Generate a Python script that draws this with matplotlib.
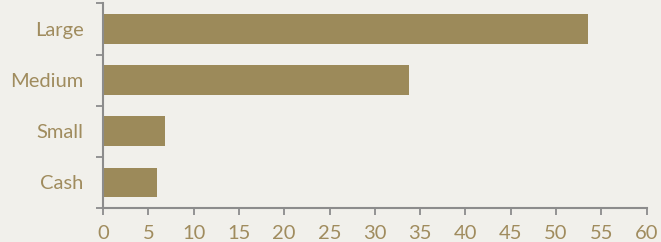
import matplotlib.pyplot as plt
from matplotlib.ticker import FixedLocator, NullFormatter

# data
categories = ["Cash", "Small", "Medium", "Large"]
values = [6.0, 6.8, 33.8, 53.5]
xticks = list(range(0, 65, 5))

bg = "#F1F0EB"
bar_color = "#9C8A5A"
text_color = "#A08C5E"
axis_color = "#8C8C8C"

plt.rcParams['font.family'] = ['Lato', 'DejaVu Sans']

fig = plt.figure(figsize=(6.61, 2.42), dpi=100, facecolor=bg)
ax = fig.add_axes([0.1558, 0.1405, 0.8226, 0.8455], facecolor=bg)

ypos = range(len(categories))
ax.barh(ypos, values, height=0.58, color=bar_color)

ax.set_xlim(0, 60)
ax.set_ylim(-0.5, len(categories) - 0.5)
ax.set_xticks(xticks)
ax.set_xticklabels([str(t) for t in xticks])

# category labels centred, tick marks between bands
ax.set_yticks(list(ypos))
ax.set_yticklabels(categories)
ax.tick_params(axis='y', which='major', length=0, pad=14, labelsize=14.5, labelcolor=text_color)
ax.yaxis.set_minor_locator(FixedLocator([i - 0.5 for i in range(len(categories) + 1)]))
ax.yaxis.set_minor_formatter(NullFormatter())
ax.tick_params(axis='y', which='minor', length=5, width=1.3, color=axis_color)
ax.tick_params(axis='x', length=5, width=1.3, color=axis_color, labelsize=14.5,
               labelcolor=text_color, pad=7)

for s in ['top', 'right']:
    ax.spines[s].set_visible(False)
for s in ['left', 'bottom']:
    ax.spines[s].set_color(axis_color)
    ax.spines[s].set_linewidth(1.5)

fig.savefig("out.png", dpi=100, facecolor=bg)
